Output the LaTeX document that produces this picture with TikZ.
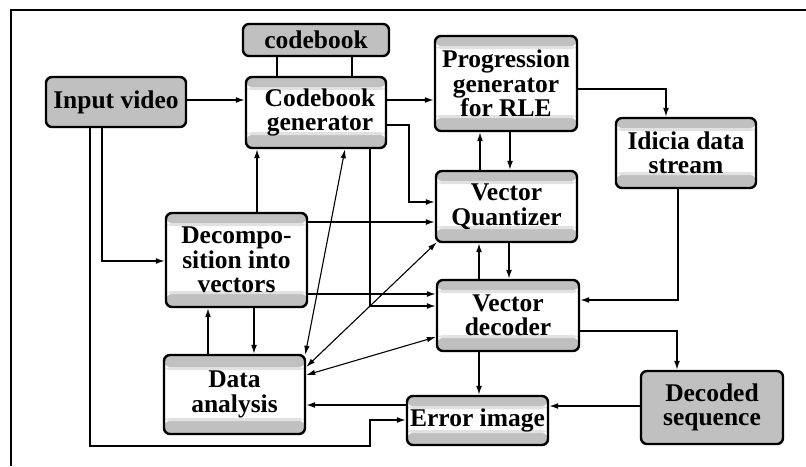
\documentclass[tikz,border=0pt]{standalone}
\usepackage{fontspec}
\setmainfont{Liberation Serif}
\usetikzlibrary{arrows.meta}
\definecolor{boxgray}{RGB}{192,192,192}
\definecolor{bandgray}{RGB}{225,225,225}
\begin{document}
\begin{tikzpicture}[x=1pt,y=-1pt,
  lbl/.style={font=\bfseries\fontsize{25.5}{24.5}\selectfont, align=center},
  box/.style={lbl, draw, line width=2.4pt, rounded corners=6pt, inner sep=0pt},
  solid box/.style={box, fill=boxgray},
  striped/.style 2 args={box, fill=white, path picture={
      \fill[boxgray] (path picture bounding box.north west) rectangle
        ([yshift=-#1]path picture bounding box.north east);
      \fill[bandgray] ([yshift=-#1]path picture bounding box.north west) rectangle
        ([yshift=-#1-3pt]path picture bounding box.north east);
      \fill[boxgray] (path picture bounding box.south west) rectangle
        ([yshift=#2]path picture bounding box.south east);
      \fill[bandgray] ([yshift=#2]path picture bounding box.south west) rectangle
        ([yshift=#2+3pt]path picture bounding box.south east);
  }},
  ln/.style={line width=1.5pt},
  arr/.style={ln, -{Latex[length=9pt,width=6pt]}},
  dbl/.style={line width=1.1pt, {Latex[length=9pt,width=5.5pt]}-{Latex[length=9pt,width=5.5pt]}}
]
\useasboundingbox (0,0) rectangle (806,466);
% outer frame
\draw[line width=2pt] (11,466) -- (11,10) -- (806,10);

% blocks
\node[solid box, minimum width=140pt, minimum height=50pt] (iv) at (116,102) {Input video};
\node[solid box, minimum width=146pt, minimum height=32pt] (cb) at (316,40) {codebook};
\node[striped={10pt}{13pt}, minimum width=140pt, minimum height=71pt] (cbg) at (316,112.5) {\hspace*{8pt}Codebook\\\hspace*{8pt}generator};
\node[striped={10pt}{13pt}, minimum width=142pt, minimum height=95pt] (pg) at (506,83.5) {Progression\\generator\\for RLE};
\node[striped={10pt}{13pt}, minimum width=140pt, minimum height=70pt] (ids) at (686,153) {Idicia data\\stream};
\node[striped={10pt}{13pt}, minimum width=141pt, minimum height=71pt] (vq) at (506.5,206.5) {Vector\\Quantizer};
\node[striped={10pt}{13pt}, minimum width=142pt, minimum height=71pt] (vd) at (508,315.5) {Vector\\decoder};
\node[striped={10pt}{12pt}, minimum width=141pt, minimum height=49pt] (ei) at (477.5,420.5) {Error image};
\node[solid box, minimum width=142pt, minimum height=73pt] (ds) at (712,407.5) {Decoded\\sequence};
\node[striped={10pt}{13pt}, minimum width=141pt, minimum height=94pt] (dec) at (236.5,260) {Decompo-\\sition into\\vectors};
\node[striped={12pt}{13pt}, minimum width=141pt, minimum height=79pt] (da) at (234.5,394.5) {Data\\analysis};

% codebook attached to its generator
\draw[ln] (cb.south -| 277,0) -- (cbg.north -| 277,0);
\draw[ln] (cb.south -| 352,0) -- (cbg.north -| 352,0);

% input video
\draw[arr] (iv.east |- 0,100) -- (cbg.west |- 0,100);
\draw[arr] (iv.south -| 102,0) |- (dec.west |- 0,261);
\draw[arr] (iv.south -| 90,0) |- (370,446) |- (ei.west |- 0,420);

% codebook generator
\draw[arr] (dec.north -| 257,0) -- (cbg.south -| 257,0);
\draw[arr] (cbg.east |- 0,100) -- (pg.west |- 0,100);
\draw[arr] (cbg.east |- 0,125) -| (409,202) -- (vq.west |- 0,202);
\draw[arr] (cbg.south -| 370,0) |- (vd.west |- 0,306);

% decomposition
\draw[arr] (dec.east |- 0,222) -- (vq.west |- 0,222);
\draw[arr] (dec.east |- 0,294) -- (vd.west |- 0,294);
\draw[arr] (da.north -| 208,0) -- (dec.south -| 208,0);
\draw[arr] (dec.south -| 254,0) -- (da.north -| 254,0);

% data analysis links
\draw[dbl] (cbg.south -| 345,0) -- ([xshift=-1pt,yshift=-1pt]da.north east);
\draw[dbl] ([xshift=2pt,yshift=1pt]vq.south west) -- (da.east |- 0,367);
\draw[dbl] (vd.west |- 0,337) -- (da.east |- 0,375);
\draw[arr] (ei.west |- 0,405) -- (da.east |- 0,405);

% quantizer, progression and decoder
\draw[arr] (vq.north -| 480,0) -- (pg.south -| 480,0);
\draw[arr] (pg.south -| 510,0) -- (vq.north -| 510,0);
\draw[arr] (vd.north -| 479,0) -- (vq.south -| 479,0);
\draw[arr] (vq.south -| 509,0) -- (vd.north -| 509,0);
\draw[arr] (pg.east |- 0,89) -| (ids.north -| 666,0);
\draw[arr] (ids.south -| 678,0) |- (vd.east |- 0,300);
\draw[arr] (vd.east |- 0,331) -| (ds.north -| 677,0);
\draw[arr] (ds.west |- 0,406) -- (ei.east |- 0,406);
\draw[arr] (vd.south -| 479,0) -- (ei.north -| 479,0);
\end{tikzpicture}
\end{document}
